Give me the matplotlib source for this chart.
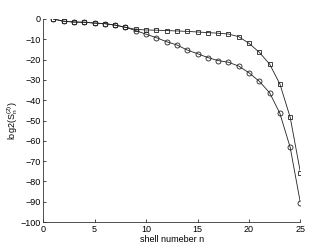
import matplotlib
matplotlib.use('Agg')
import matplotlib.pyplot as plt
import numpy as np

plt.rcParams['font.family'] = ['Liberation Sans', 'DejaVu Sans']
plt.rcParams['font.size'] = 6.5
plt.rcParams['mathtext.fontset'] = 'custom'
plt.rcParams['mathtext.rm'] = 'Liberation Sans'
plt.rcParams['mathtext.it'] = 'Liberation Sans'

n = np.arange(1, 26)
sq = [0, -1.1, -1.5, -1.6, -2.0, -2.3, -3.0, -4.1, -5.1, -5.4, -5.5, -5.7,
      -5.9, -6.1, -6.4, -6.7, -7.0, -7.4, -8.7, -12.0, -16.4, -22.2, -32.0, -48.4, -75.7]
circ = [0, -1.1, -1.5, -1.6, -2.0, -2.3, -3.0, -4.1, -5.7, -7.5, -9.2, -11.2,
        -12.8, -15.3, -17.1, -19.0, -20.5, -21.3, -23.2, -26.5, -30.7, -36.3, -46.5, -63.2, -90.8]

fig = plt.figure(figsize=(3.32, 2.5), dpi=100)
ax = fig.add_axes([0.13, 0.112, 0.775, 0.812])

ax.plot(n, sq, '-s', color='#222222', lw=0.6, ms=3.2, mfc='none', mew=0.6)
ax.plot(n, circ, '-o', color='#222222', lw=0.6, ms=3.6, mfc='none', mew=0.6)

ax.set_xlim(0, 25)
ax.set_ylim(-100, 0)
ax.set_xticks([0, 5, 10, 15, 20, 25])
ax.set_yticks(np.arange(-100, 1, 10))
ax.tick_params(direction='in', length=2.5, width=0.5, pad=2)
for s in ['top', 'right']:
    ax.spines[s].set_visible(False)
for s in ['left', 'bottom']:
    ax.spines[s].set_linewidth(0.6)
    ax.spines[s].set_color('#333333')

ax.set_xlabel('shell numeber n', labelpad=1)
ax.set_ylabel(r'log2(S$_n^{(2)}$)', labelpad=0)

fig.savefig('out.png', dpi=100)
